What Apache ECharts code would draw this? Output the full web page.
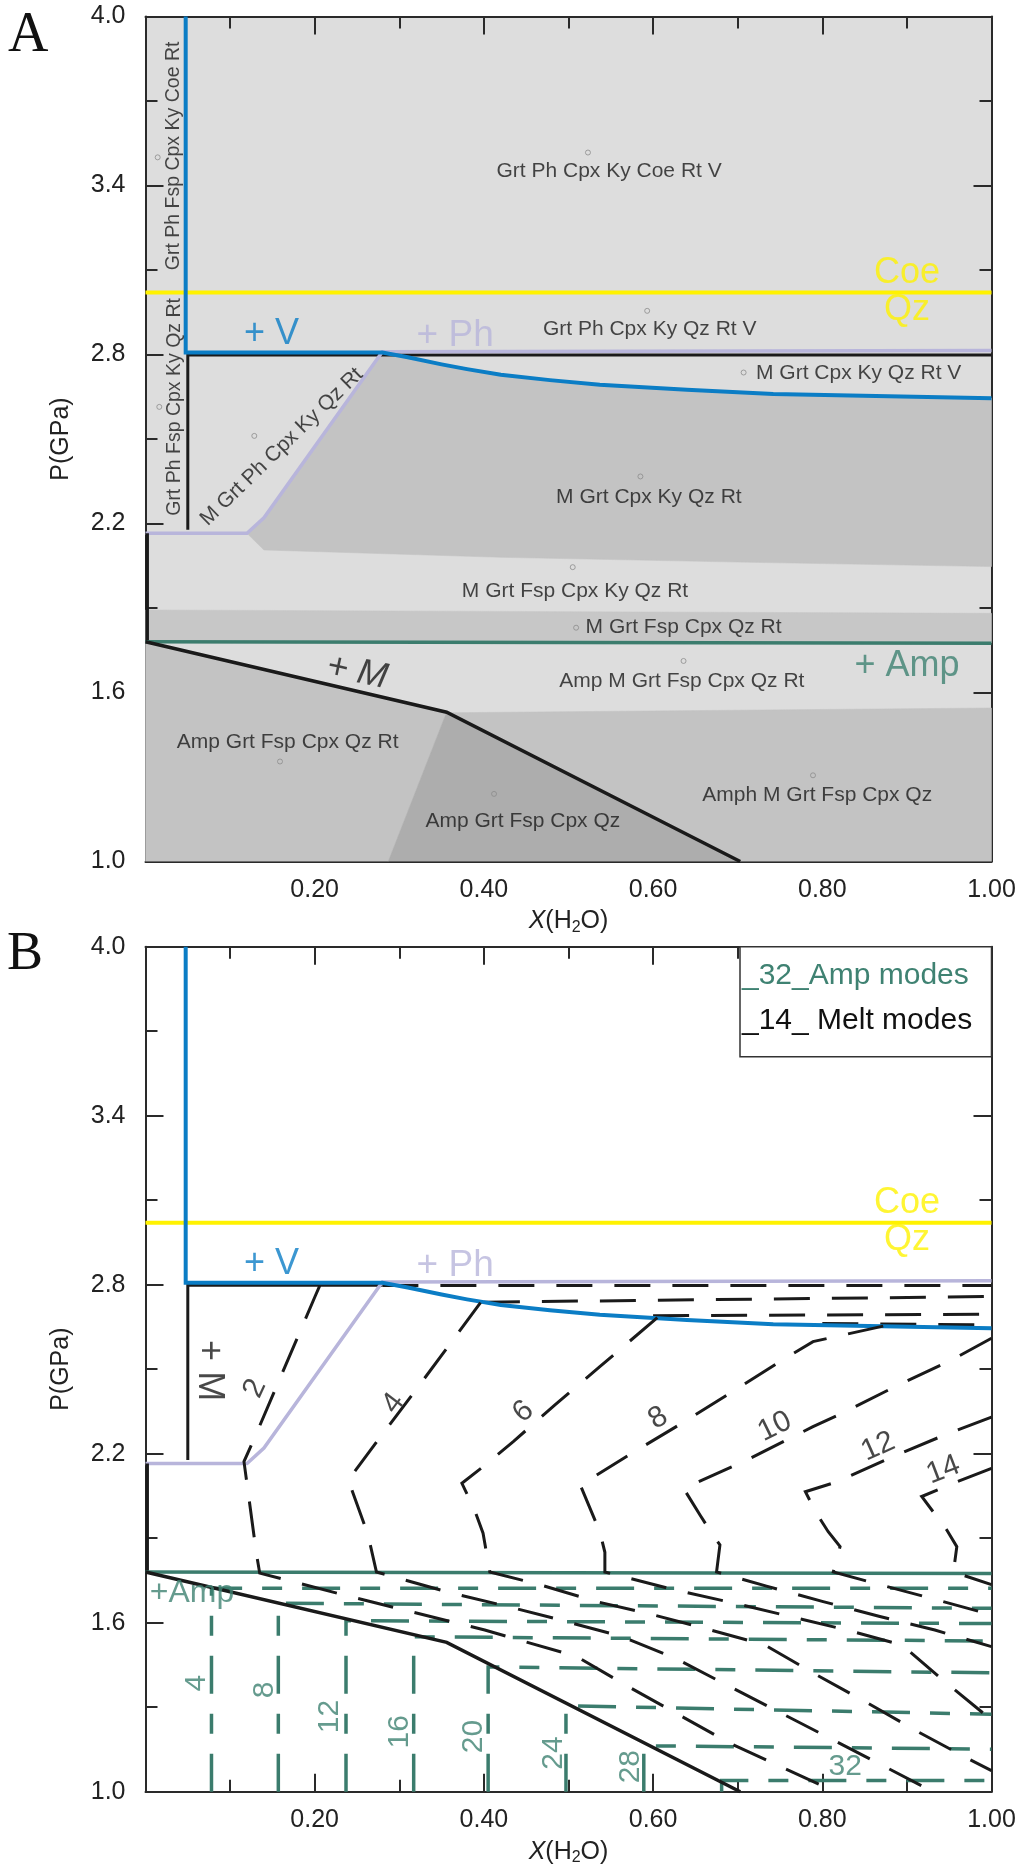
<!DOCTYPE html>
<html><head><meta charset="utf-8">
<script src="https://cdn.jsdelivr.net/npm/echarts@6/dist/echarts.min.js"></script>
<style>html,body{margin:0;padding:0;background:#fff}#c{width:1024px;height:1870px}</style>
</head><body><div id="c"></div>
<script>
// ---------- axis ticks ----------
const xTicks = [0.2, 0.4, 0.6, 0.8, 1.0];
const yTicks = [1.0, 1.6, 2.2, 2.8, 3.4, 4.0];

// ---------- panel A : field polygons (X(H2O), P GPa) ----------
const polyMGrtCpxKyQzRt = [[0.28,2.805],[0.31,2.79],[0.35,2.765],[0.38,2.748],[0.42,2.728],[0.478,2.709],[0.537,2.693],[0.64,2.675],[0.742,2.66],[1.0,2.645],[1.0,2.047],[0.70,2.063],[0.42,2.08],[0.14,2.106],[0.12,2.165],[0.14,2.22]];
const polyMGrtFspCpxQzRt = [[0,1.893],[0.5,1.887],[1.0,1.881],[1.0,1.776],[0,1.78]];
const polyAmphMGrtFspCpxQz = [[0.356,1.528],[1.0,1.545],[1.0,1.0],[0.703,1.0]];
const polyAmpGrtFspCpxQzRt = [[0,1.78],[0.356,1.53],[0.287,1.0],[0,1.0]];
const polyAmpGrtFspCpxQz = [[0.356,1.53],[0.703,1.0],[0.287,1.0]];

// ---------- reaction lines ----------
const yellowCoeQz = [[0,3.02],[1,3.02]];
const blueV = [[0.0475,4.0],[0.0475,2.807],[0.28,2.807],[0.31,2.79],[0.35,2.765],[0.38,2.748],[0.42,2.728],[0.478,2.709],[0.537,2.693],[0.64,2.675],[0.742,2.66],[1.0,2.645]];
const lavenderPh = [[0,2.165],[0.12,2.165],[0.14,2.22],[0.28,2.81],[1.0,2.814]];
const blackPhA = [[0.05,2.178],[0.05,2.798],[1.0,2.798]];
const blackPhB = [[0.05,2.178],[0.05,2.798],[0.28,2.798]];
const blackLeft = [[0.002,2.165],[0.002,1.78]];
const tealAmp = [[0,1.78],[1,1.775]];
const blackMelt = [[0,1.78],[0.356,1.53],[0.703,1.0]];

// ---------- panel B : melt mode contours ----------
const melt0 = [[0.28,2.797],[1.0,2.797]];
const meltTopB = [[0.40,2.738],[1.0,2.758]];
const meltTopC = [[0.60,2.69],[1.0,2.695]];
const meltTopD = [[0.80,2.662],[1.0,2.657]];
const melt2 = [[0.206,2.797],[0.2004,2.758],[0.127,2.243],[0.1164,2.172],[0.122,2.048],[0.131,1.847],[0.135,1.776],[0.2417,1.693],[0.401,1.574],[0.5097,1.48],[0.5707,1.373],[0.691,1.172],[0.815,1.0]];
const melt4 = [[0.396,2.736],[0.3225,2.438],[0.281,2.273],[0.2397,2.107],[0.263,1.912],[0.273,1.78],[0.362,1.705],[0.429,1.657],[0.49,1.61],[0.563,1.551],[0.626,1.474],[0.687,1.379],[0.748,1.284],[0.809,1.19],[0.87,1.095],[0.931,1.0]];
const melt6 = [[0.605,2.683],[0.537,2.509],[0.484,2.373],[0.4347,2.243],[0.399,2.154],[0.374,2.095],[0.389,2.0],[0.399,1.918],[0.407,1.78],[0.466,1.735],[0.533,1.675],[0.60,1.628],[0.667,1.575],[0.732,1.521],[0.793,1.415],[0.854,1.314],[0.913,1.213],[0.975,1.113],[1.0,1.075]];
const melt8 = [[0.872,2.653],[0.789,2.598],[0.75,2.527],[0.691,2.415],[0.634,2.308],[0.575,2.202],[0.514,2.088],[0.537,1.923],[0.543,1.85],[0.543,1.78],[0.626,1.716],[0.695,1.67],[0.762,1.622],[0.829,1.574],[0.894,1.521],[0.947,1.385],[1.0,1.255]];
const melt10 = [[1.0,2.61],[0.953,2.533],[0.89,2.444],[0.827,2.349],[0.789,2.296],[0.707,2.172],[0.636,2.077],[0.656,1.98],[0.669,1.918],[0.679,1.876],[0.675,1.78],[0.734,1.73],[0.801,1.675],[0.868,1.622],[0.933,1.574],[1.0,1.515]];
const melt12 = [[1.0,2.33],[0.945,2.267],[0.884,2.19],[0.817,2.10],[0.78,2.065],[0.793,1.989],[0.807,1.923],[0.821,1.87],[0.813,1.78],[0.868,1.735],[0.933,1.683],[1.0,1.628]];
const melt14 = [[1.0,2.148],[0.959,2.10],[0.9175,2.048],[0.931,1.994],[0.947,1.93],[0.959,1.87],[0.955,1.78],[1.0,1.735]];

// ---------- panel B : amphibole mode contours ----------
const amp4 = [[0.078,1.0],[0.078,1.722],[1.0,1.722]];
const amp8 = [[0.157,1.0],[0.157,1.669],[1.0,1.651]];
const amp12 = [[0.237,1.0],[0.237,1.607],[1.0,1.597]];
const amp16 = [[0.317,1.0],[0.317,1.55],[1.0,1.535]];
const amp20 = [[0.405,1.0],[0.405,1.443],[1.0,1.422]];
const amp24 = [[0.497,1.0],[0.497,1.305],[1.0,1.275]];
const amp28 = [[0.589,1.0],[0.589,1.163],[1.0,1.151]];
const amp32 = [[0.681,1.0],[0.681,1.04],[1.0,1.04]];

// ---------- labels : [text, x, P, rotate] ----------
const fieldLabels = [
  ['Grt Ph Cpx Ky Coe Rt V',0.548,3.452,0],
  ['Grt Ph Cpx Ky Qz Rt V',0.596,2.89,0],
  ['M Grt Cpx Ky Qz Rt V',0.843,2.735,0],
  ['M Grt Cpx Ky Qz Rt',0.595,2.295,0],
  ['M Grt Fsp Cpx Ky Qz Rt',0.5077,1.96,0],
  ['M Grt Fsp Cpx Qz Rt',0.636,1.831,0],
  ['Amp M Grt Fsp Cpx Qz Rt',0.634,1.64,0],
  ['Amp Grt Fsp Cpx Qz Rt',0.168,1.422,0],
  ['Amp Grt Fsp Cpx Qz',0.446,1.143,0],
  ['Amph M Grt Fsp Cpx Qz',0.794,1.235,0],
  ['M Grt Ph Cpx Ky Qz Rt',0.161,2.472,44]
];
const fieldLabelsVertical = [
  ['Grt Ph Fsp Cpx Ky Coe Rt',0.0329,3.505,90],
  ['Grt Ph Fsp Cpx Ky Qz Rt',0.034,2.614,90]
];
const fieldDots = [[0.523,3.517],[0.593,2.955],[0.707,2.736],[0.585,2.367],[0.505,2.045],[0.509,1.83],[0.636,1.712],[0.159,1.355],[0.412,1.24],[0.789,1.306],[0.0144,3.50],[0.0163,2.614],[0.1286,2.511]];
const meltLabels = [['2',0.1294,2.432,65],['4',0.293,2.379,53],['6',0.4466,2.349,41],['8',0.606,2.326,31],['10',0.744,2.296,26],['12',0.866,2.225,24],['14',0.943,2.142,21]];
const ampLabels = [['4',0.0605,1.385,90],['8',0.141,1.361,90],['12',0.218,1.267,90],['16',0.301,1.213,90],['20',0.3875,1.196,90],['24',0.482,1.137,90],['28',0.573,1.089,90],['32',0.827,1.089,0]];

// ---------- style ----------
const FONT = "'Liberation Sans', Arial, sans-serif";
const FRAME = '#2a2a2a';
const C_BLUE = '#0b7dc5', C_YEL = '#fff200', C_LAV = '#b8b5db', C_TEAL = '#3b7c6d', C_TEAL_T = '#3f8272', C_BLK = '#1a1a1a';
const C_LIGHT = '#dddddd', C_MID = '#c3c3c3', C_DARK = '#adadad';
const DASH_MELT = [36,22], DASH_AMP = [38,20,20,20];

const chart = echarts.init(document.getElementById('c'), null, {renderer:'canvas'});

function axes(gi) {
  const tick = {inside:true, length:18, lineStyle:{color:FRAME, width:2}};
  const minor = {show:true, splitNumber:2, length:12, lineStyle:{color:FRAME, width:2}};
  const line = {show:true, onZero:false, lineStyle:{color:FRAME, width:2}};
  const x = [
    {gridIndex:gi, type:'value', min:0, max:1, interval:0.2, position:'bottom', axisLine:line, axisTick:tick, minorTick:minor, splitLine:{show:false},
     axisLabel:{fontSize:25, color:'#222', fontFamily:FONT, margin:16, formatter:v => (xTicks.some(t=>Math.abs(t-v)<1e-6) ? v.toFixed(2) : '')},
     name:'{i|X}(H{s|2}O)', nameLocation:'middle', nameGap:46,
     nameTextStyle:{fontSize:25, color:'#222', fontFamily:FONT, rich:{i:{fontStyle:'italic', fontSize:25, color:'#222', fontFamily:FONT}, s:{fontSize:16, color:'#222', fontFamily:FONT, padding:[12,0,0,0]}}}},
    {gridIndex:gi, type:'value', min:0, max:1, interval:0.2, position:'top', axisLine:line, axisTick:tick, minorTick:minor, splitLine:{show:false}, axisLabel:{show:false}}
  ];
  const y = [
    {gridIndex:gi, type:'value', min:1, max:4, interval:0.6, position:'left', axisLine:line, axisTick:tick, minorTick:minor, splitLine:{show:false},
     axisLabel:{fontSize:25, color:'#222', fontFamily:FONT, margin:20, formatter:v => (yTicks.some(t=>Math.abs(t-v)<1e-6) ? v.toFixed(1) : '')},
     name:'P(GPa)', nameLocation:'middle', nameGap:72, nameRotate:90, nameTextStyle:{fontSize:25, color:'#222', fontFamily:FONT}},
    {gridIndex:gi, type:'value', min:1, max:4, interval:0.6, position:'right', axisLine:line, axisTick:tick, minorTick:minor, splitLine:{show:false}, axisLabel:{show:false}}
  ];
  return {x, y};
}
const aA = axes(0), aB = axes(1);

function poly(gi, pts, color) {
  return {type:'custom', xAxisIndex:gi*2, yAxisIndex:gi*2, silent:true, z:1, clip:true,
    data:[pts[0]],
    renderItem:(params, api) => ({type:'polygon', shape:{points: pts.map(p => api.coord(p))}, style:{fill:color, stroke:color, lineWidth:0.5}})};
}
function ln(gi, data, color, width, dash, z) {
  return {type:'line', xAxisIndex:gi*2, yAxisIndex:gi*2, data, symbol:'none', silent:true, z:z||5,
    lineStyle:{color, width, type: dash || 'solid', cap:'butt', join:'miter'}};
}
function txt(gi, items, style) {
  return {type:'scatter', xAxisIndex:gi*2, yAxisIndex:gi*2, symbolSize:1, silent:true, z:20,
    itemStyle:{color:'rgba(0,0,0,0)'},
    label:Object.assign({show:true, position:'inside', formatter:'{b}', fontFamily:FONT, color:'#1c1c1c', fontSize:21}, style),
    data: items.map(([t,x,y,r]) => ({name:t, value:[x,y], label:{rotate:r||0}}))};
}
function dots(gi, pts) {
  return {type:'scatter', xAxisIndex:gi*2, yAxisIndex:gi*2, symbol:'circle', symbolSize:5, silent:true, z:15,
    itemStyle:{color:'rgba(0,0,0,0)', borderColor:'#8c8c8c', borderWidth:1}, data:pts};
}
function bigLabels(gi, mItalic, mRot, mPos) {
  return [
    txt(gi, [['+ V',0.149,2.872,0]], {color:C_BLUE, fontSize:36}),
    txt(gi, [['+ Ph',0.366,2.866,0]], {color:C_LAV, fontSize:37}),
    txt(gi, [['Coe',0.9,3.09,0],['Qz',0.9,2.958,0]], {color:C_YEL, fontSize:36}),
    txt(gi, [['+ M',mPos[0],mPos[1],mRot]], {color:C_BLK, fontSize:36, fontStyle: mItalic ? 'italic' : 'normal'})
  ];
}

const series = [
  // panel A
  poly(0, polyMGrtCpxKyQzRt, C_MID),
  poly(0, polyMGrtFspCpxQzRt, '#c7c7c7'),
  poly(0, polyAmphMGrtFspCpxQz, C_MID),
  poly(0, polyAmpGrtFspCpxQzRt, C_MID),
  poly(0, polyAmpGrtFspCpxQz, C_DARK),
  ln(0, yellowCoeQz, C_YEL, 4),
  ln(0, blackPhA, C_BLK, 3),
  ln(0, lavenderPh, C_LAV, 3.5),
  ln(0, blueV, C_BLUE, 4, null, 6),
  ln(0, blackLeft, C_BLK, 3.5),
  ln(0, tealAmp, C_TEAL, 3.5),
  ln(0, blackMelt, C_BLK, 3.5),
  dots(0, fieldDots),
  txt(0, fieldLabels, {}),
  txt(0, fieldLabelsVertical, {fontSize:19.5}),
  txt(0, [['+ Amp',0.90,1.694,0]], {color:C_TEAL_T, fontSize:36}),
  ...bigLabels(0, true, -12, [0.25,1.672]),
  // panel B
  ln(1, yellowCoeQz, C_YEL, 4),
  ln(1, blackPhB, C_BLK, 3),
  ln(1, melt0, C_BLK, 3, DASH_MELT),
  ln(1, lavenderPh, C_LAV, 3.5),
  ln(1, meltTopB, C_BLK, 3, DASH_MELT),
  ln(1, meltTopC, C_BLK, 3, DASH_MELT),
  ln(1, meltTopD, C_BLK, 3, DASH_MELT),
  ln(1, blueV, C_BLUE, 4, null, 6),
  ln(1, amp4, C_TEAL, 3.5, DASH_AMP),
  ln(1, amp8, C_TEAL, 3.5, DASH_AMP),
  ln(1, amp12, C_TEAL, 3.5, DASH_AMP),
  ln(1, amp16, C_TEAL, 3.5, DASH_AMP),
  ln(1, amp20, C_TEAL, 3.5, DASH_AMP),
  ln(1, amp24, C_TEAL, 3.5, DASH_AMP),
  ln(1, amp28, C_TEAL, 3.5, DASH_AMP),
  ln(1, amp32, C_TEAL, 3.5, DASH_AMP),
  ln(1, melt2, C_BLK, 3, DASH_MELT, 7),
  ln(1, melt4, C_BLK, 3, DASH_MELT, 7),
  ln(1, melt6, C_BLK, 3, DASH_MELT, 7),
  ln(1, melt8, C_BLK, 3, DASH_MELT, 7),
  ln(1, melt10, C_BLK, 3, DASH_MELT, 7),
  ln(1, melt12, C_BLK, 3, DASH_MELT, 7),
  ln(1, melt14, C_BLK, 3, DASH_MELT, 7),
  ln(1, blackLeft, C_BLK, 3.5),
  ln(1, tealAmp, C_TEAL, 3.5),
  ln(1, blackMelt, C_BLK, 3.5),
  txt(1, meltLabels, {color:C_BLK, fontSize:30}),
  txt(1, ampLabels, {color:C_TEAL_T, fontSize:30}),
  txt(1, [['+Amp',0.055,1.705,0]], {color:C_TEAL_T, fontSize:32}),
  ...bigLabels(1, false, -90, [0.075,2.495])
];

chart.setOption({
  animation:false,
  backgroundColor:'#ffffff',
  grid:[
    {left:145.5, top:16.5, width:846, height:845, show:true, backgroundColor:C_LIGHT, borderWidth:0},
    {left:145.5, top:946.7, width:846, height:845, show:true, backgroundColor:'#ffffff', borderWidth:0}
  ],
  xAxis:[...aA.x, ...aB.x],
  yAxis:[...aA.y, ...aB.y],
  series,
  graphic:[
    {type:'text', left:8, top:8, z:100, style:{text:'A', font:"56px 'Liberation Serif', 'Times New Roman', serif", fill:'#111'}},
    {type:'text', left:7, top:928, z:100, style:{text:'B', font:"54px 'Liberation Serif', 'Times New Roman', serif", fill:'#111'}},
    {type:'rect', z:100, shape:{x:740, y:946.7, width:251.5, height:110}, style:{fill:'#fff', stroke:'#333', lineWidth:1.5}},
    {type:'text', z:101, x:742, y:976, style:{text:'_32_Amp modes', font:"30px 'Liberation Sans', Arial, sans-serif", fill:C_TEAL_T, verticalAlign:'middle'}},
    {type:'text', z:101, x:742, y:1021, style:{text:'_14_ Melt modes', font:"30px 'Liberation Sans', Arial, sans-serif", fill:'#111', verticalAlign:'middle'}}
  ]
});
</script></body></html>
